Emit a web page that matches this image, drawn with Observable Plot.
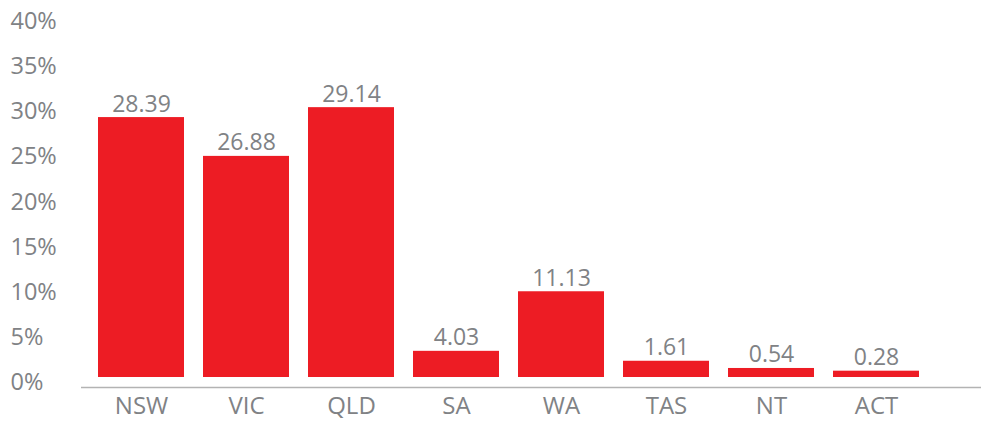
<!DOCTYPE html>
<html>
<head>
<meta charset="utf-8">
<script src="https://cdn.jsdelivr.net/npm/d3@7"></script>
<script src="https://cdn.jsdelivr.net/npm/@observablehq/plot@0.6"></script>
<style>
  html, body { margin: 0; padding: 0; background: #fff; }
  #chart svg { display: block; }
</style>
</head>
<body>
<div id="chart"></div>
<script>
// Categories (Australian states/territories)
const states = ["NSW", "VIC", "QLD", "SA", "WA", "TAS", "NT", "ACT"];
// Printed value labels (%)
const labels = ["28.39", "26.88", "29.14", "4.03", "11.13", "1.61", "0.54", "0.28"];
// Bar heights as drawn in the reference (%)
const barHeights = [28.8, 24.5, 29.9, 2.9, 9.5, 1.8, 1.0, 0.7];
// Y-axis tick values (%)
const yTicks = [0, 5, 10, 15, 20, 25, 30, 35, 40];

const data = states.map((s, i) => ({state: s, height: barHeights[i], label: labels[i]}));

const red = "#ED1C24";
const grey = "#808285";
const font = "'Open Sans', 'Noto Sans', sans-serif";

const chart = Plot.plot({
  width: 981,
  height: 421,
  marginLeft: 81,
  marginRight: 0,
  marginTop: 16,
  marginBottom: 44,
  style: {fontFamily: font, background: "#fff"},
  x: {domain: states, paddingInner: 0.182, paddingOuter: 0.373, align: 0.217, axis: null},
  y: {domain: [0, 40], axis: null},
  marks: [
    Plot.ruleY([0], {dy: 10, stroke: "#b3b3b3", strokeWidth: 1.5}),
    Plot.barY(data, {x: "state", y: "height", fill: red}),
    Plot.text(data, {x: "state", y: "height", text: "label", lineAnchor: "bottom", dy: -6, fill: grey, fontSize: 23}),
    Plot.text(states, {x: d => d, text: d => d, frameAnchor: "bottom", dy: 29, lineAnchor: "middle", fill: grey, fontSize: 24}),
    Plot.text(yTicks, {y: d => d, text: d => d + "%", frameAnchor: "left", textAnchor: "start", dx: -71, dy: 5, fill: grey, fontSize: 23.5})
  ]
});

document.getElementById("chart").appendChild(chart);
</script>
</body>
</html>
